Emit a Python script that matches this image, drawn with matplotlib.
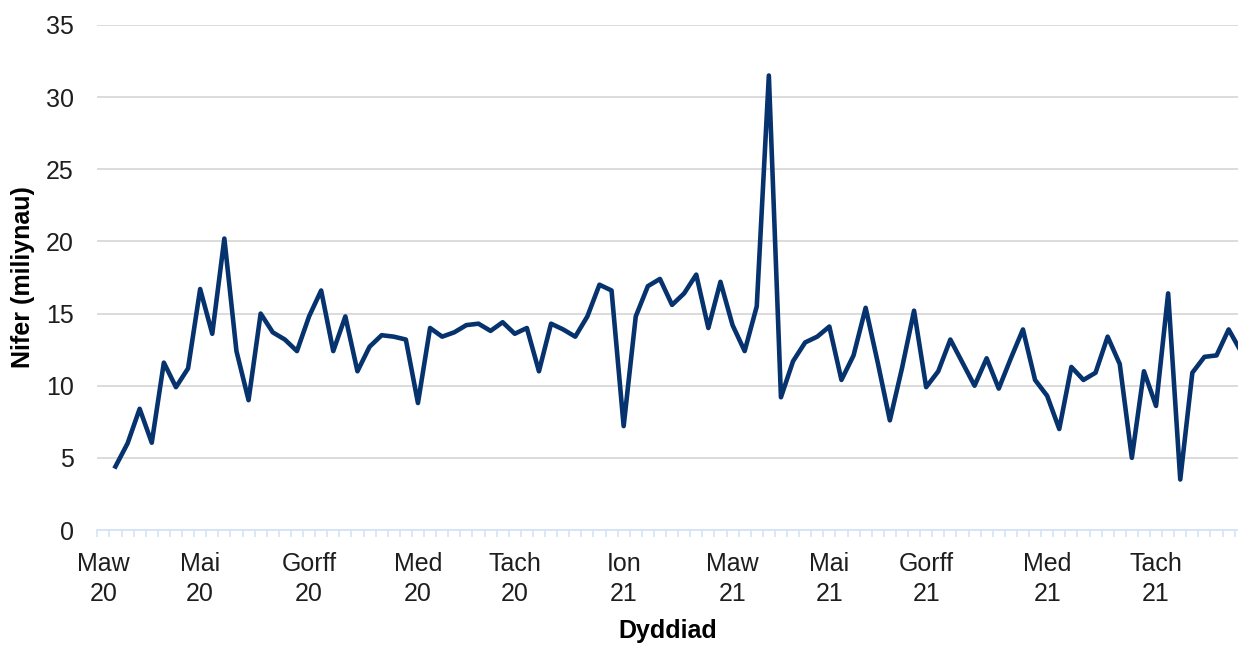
import matplotlib
matplotlib.use('Agg')
import matplotlib.pyplot as plt
from matplotlib.ticker import FixedLocator, MultipleLocator
import numpy as np

plt.rcParams['font.family'] = ['Liberation Sans', 'DejaVu Sans']

# weekly values (millions); first category of the axis has no value
values = [np.nan,
          4.4, 6.0, 8.4, 6.05, 11.6, 9.9, 11.2, 16.7, 13.6, 20.2,
          12.4, 9.0, 15.0, 13.7, 13.2, 12.4, 14.8, 16.6, 12.4, 14.8,
          11.0, 12.7, 13.5, 13.4, 13.2, 8.8, 14.0, 13.4, 13.7, 14.2,
          14.3, 13.8, 14.4, 13.6, 14.0, 11.0, 14.3, 13.9, 13.4, 14.8,
          17.0, 16.6, 7.2, 14.8, 16.9, 17.4, 15.6, 16.4, 17.7, 14.0,
          17.2, 14.2, 12.4, 15.5, 31.5, 9.2, 11.7, 13.0, 13.4, 14.1,
          10.4, 12.1, 15.4, 11.6, 7.6, 11.2, 15.2, 9.9, 11.0, 13.2,
          11.6, 10.0, 11.9, 9.8, 11.9, 13.9, 10.4, 9.3, 7.0, 11.3,
          10.4, 10.9, 13.4, 11.5, 5.0, 11.0, 8.6, 16.4, 3.5, 10.9,
          12.0, 12.1, 13.9, 12.4]

label_pos = [0, 8, 17, 26, 34, 43, 52, 60, 68, 78, 87]
label_text = ['Maw\n20', 'Mai\n20', 'Gorff\n20', 'Med\n20', 'Tach\n20',
              'Ion\n21', 'Maw\n21', 'Mai\n21', 'Gorff\n21', 'Med\n21', 'Tach\n21']

x = np.arange(len(values))

fig = plt.figure(figsize=(12.38, 6.46), dpi=100)
ax = fig.add_axes([97.3 / 1238, 116 / 646, 1 - 97.3 / 1238, 505 / 646])

ax.plot(x, values, color='#06326E', lw=3.3, solid_joinstyle='round')

ax.set_ylim(0, 35)
ax.set_xlim(-0.5, -0.5 + (1238 - 97.3) / 12.1)
ax.yaxis.set_major_locator(MultipleLocator(5))
ax.grid(axis='y', color='#D9D9D9', lw=1.3)
ax.set_axisbelow(True)

ax.xaxis.set_major_locator(FixedLocator(label_pos))
ax.set_xticklabels(label_text, fontsize=18, color='#1E1E1E', linespacing=1.28)
ax.xaxis.set_minor_locator(FixedLocator(np.arange(-0.5, len(values), 1)))
ax.tick_params(axis='x', which='major', length=0, pad=16)
ax.tick_params(axis='x', which='minor', length=5, color='#D6E3F8', width=1.2)
ax.tick_params(axis='y', length=0, pad=17, labelsize=18, labelcolor='#1E1E1E')

for s in ['top', 'right', 'left']:
    ax.spines[s].set_visible(False)
ax.spines['bottom'].set_color('#D6E3F8')
ax.spines['bottom'].set_linewidth(1.3)

ax.set_xlabel('Dyddiad', fontsize=18, fontweight='bold')
ax.xaxis.set_label_coords(0.5, (530 - 631) / 505)
ax.xaxis.label.set_va('center')
ax.set_ylabel('Nifer (miliynau)', fontsize=18, fontweight='bold')
ax.yaxis.set_label_coords((23 - 97.3) / 1140.7, 0.5)
ax.yaxis.label.set_va('center')

fig.savefig('out.png', dpi=100)
